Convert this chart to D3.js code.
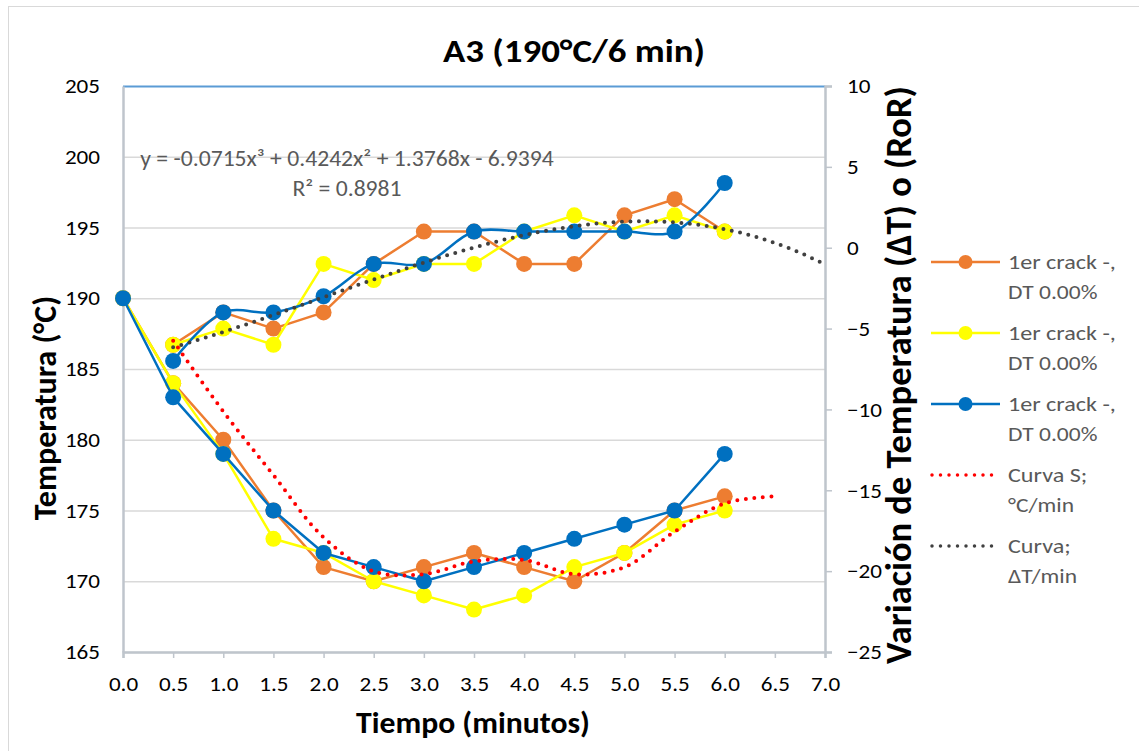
<!DOCTYPE html>
<html>
<head>
<meta charset="utf-8">
<script src="https://cdn.jsdelivr.net/npm/d3@7"></script>
<style>
  html, body { margin: 0; padding: 0; background: #ffffff; }
  svg { display: block; font-family: Calibri, Carlito, Lato, sans-serif; }
</style>
</head>
<body>
<svg id="chart" width="1139" height="751"></svg>
<script>
// Time axis (minutes)
const timeTicks = [0, 0.5, 1, 1.5, 2, 2.5, 3, 3.5, 4, 4.5, 5, 5.5, 6, 6.5, 7];
const tempTicks = [165, 170, 175, 180, 185, 190, 195, 200, 205];
const rorTicks = [-25, -20, -15, -10, -5, 0, 5, 10];

// Temperature readings (°C), every 0.5 min from 0.0 to 6.0
const tempTimes = [0, 0.5, 1, 1.5, 2, 2.5, 3, 3.5, 4, 4.5, 5, 5.5, 6];
const tempOrange = [190, 184, 180, 175, 171, 170, 171, 172, 171, 170, 172, 175, 176];
const tempYellow = [190, 184, 179, 173, 172, 170, 169, 168, 169, 171, 172, 174, 175];
const tempBlue   = [190, 183, 179, 175, 172, 171, 170, 171, 172, 173, 174, 175, 179];

// Temperature change per interval (ΔT), from 0.5 to 6.0 min
const rorTimes = [0.5, 1, 1.5, 2, 2.5, 3, 3.5, 4, 4.5, 5, 5.5, 6];
const rorOrange = [-6, -4, -5, -4, -1, 1, 1, -1, -1, 2, 3, 1];
const rorYellow = [-6, -5, -6, -1, -2, -1, -1, 1, 2, 1, 2, 1];
const rorBlue   = [-7, -4, -4, -3, -1, -1, 1, 1, 1, 1, 1, 4];

// Reference S curve (°C), 0.5 to 6.5 min
const sTimes = [0.5, 1, 1.5, 2, 2.5, 3, 3.5, 4, 4.5, 5, 5.5, 6, 6.5];
const sCurve = [187, 182, 177.5, 173.1, 170.7, 170.5, 171.4, 171.5, 170.5, 171, 173.5, 175.5, 176];

// Cubic trend of ΔT: c0 + c1 x + c2 x² + c3 x³
const trendCoef = [-6.9394, 1.3768, 0.4242, -0.0715];
const trendR2 = 0.8981;
const trendRange = [0.5, 7];

const legendLabels = [
  ["1er crack -,", "DT 0.00%"],
  ["1er crack -,", "DT 0.00%"],
  ["1er crack -,", "DT 0.00%"],
  ["Curva S;", "°C/min"],
  ["Curva;", "ΔT/min"]
];

const C = { orange: "#ED7D31", yellow: "#FFFF00", blue: "#0070C0", red: "#FF0000", dark: "#404040" };
const SX = 1.1; // horizontal widening of the chart text

const svg = d3.select("#chart");
const plot = { left: 123, right: 825, top: 86, bottom: 652 };

const x = d3.scaleLinear().domain([0, 7]).range([plot.left, plot.right]);
const yT = d3.scaleLinear().domain([165, 205]).range([plot.bottom, plot.top]);
const yR = d3.scaleLinear().domain([-25, 10]).range([plot.bottom, plot.top]);

// horizontal text placed at (px, py), widened by sx
function htext(px, py, str, opts = {}) {
  return svg.append("text")
    .attr("transform", `translate(${px},${py}) scale(${opts.sx || SX},1)`)
    .attr("text-anchor", opts.anchor || "start")
    .attr("font-size", opts.size || 20)
    .attr("font-weight", opts.bold ? "bold" : null)
    .attr("fill", opts.fill || "#000")
    .text(str);
}

// outer frame
svg.append("rect").attr("x", 8.5).attr("y", 6.5).attr("width", 1150).attr("height", 800)
  .attr("fill", "#fff").attr("stroke", "#d9d9d9").attr("stroke-width", 1);

// horizontal gridlines from the temperature axis
svg.append("g").selectAll("line").data(tempTicks.filter(d => d !== 205)).join("line")
  .attr("x1", plot.left).attr("x2", plot.right)
  .attr("y1", d => yT(d) + 0.5).attr("y2", d => yT(d) + 0.5)
  .attr("stroke", "#d9d9d9").attr("stroke-width", 1.5);

// top border line
svg.append("line").attr("x1", plot.left).attr("x2", plot.right)
  .attr("y1", plot.top + 0.5).attr("y2", plot.top + 0.5)
  .attr("stroke", "#5B9BD5").attr("stroke-width", 2);

// axes
const axisColor = "#BFC5CC";
const fontTick = 21;

const gx = svg.append("g").attr("transform", `translate(0,${plot.bottom})`)
  .call(d3.axisBottom(x).tickValues(timeTicks).tickFormat(d3.format(".1f")).tickSize(6).tickPadding(18));
const gl = svg.append("g").attr("transform", `translate(${plot.left},0)`)
  .call(d3.axisLeft(yT).tickValues(tempTicks).tickSize(0).tickPadding(23));
const gr = svg.append("g").attr("transform", `translate(${plot.right},0)`)
  .call(d3.axisRight(yR).tickValues(rorTicks).tickSize(7).tickPadding(15));

[gx, gl, gr].forEach(g => {
  g.select(".domain").attr("stroke", axisColor).attr("stroke-width", 2.5);
  g.selectAll(".tick line").attr("stroke", axisColor).attr("stroke-width", 1.5);
  g.selectAll(".tick text").attr("font-size", fontTick).attr("fill", "#000")
    .attr("font-family", "Calibri, Carlito, Lato, sans-serif")
    .attr("x", function () { return (+d3.select(this).attr("x") || 0) / SX; })
    .attr("transform", `scale(${SX},1)`);
});

// line generators
const lineT = d3.line().x(d => x(d[0])).y(d => yT(d[1]));
const lineR = d3.line().x(d => x(d[0])).y(d => yR(d[1]));
const lineRsmooth = d3.line().x(d => x(d[0])).y(d => yR(d[1])).curve(d3.curveCatmullRom.alpha(0.5));
const lineTsmooth = d3.line().x(d => x(d[0])).y(d => yT(d[1])).curve(d3.curveCatmullRom.alpha(0.5));

function series(times, vals, gen, yScale, color) {
  const pts = times.map((t, i) => [t, vals[i]]);
  const g = svg.append("g");
  g.append("path").attr("d", gen(pts)).attr("fill", "none")
    .attr("stroke", color).attr("stroke-width", 2.5).attr("stroke-linejoin", "round");
  g.selectAll("circle").data(pts).join("circle")
    .attr("cx", d => x(d[0])).attr("cy", d => yScale(d[1])).attr("r", 8).attr("fill", color);
}

// temperature series
series(tempTimes, tempOrange, lineT, yT, C.orange);
series(tempTimes, tempYellow, lineT, yT, C.yellow);
series(tempTimes, tempBlue, lineT, yT, C.blue);

// ΔT series
series(rorTimes, rorOrange, lineR, yR, C.orange);
series(rorTimes, rorYellow, lineR, yR, C.yellow);
series(rorTimes, rorBlue, lineRsmooth, yR, C.blue);

// S curve (dotted)
svg.append("path")
  .attr("d", lineTsmooth(sTimes.map((t, i) => [t, sCurve[i]])))
  .attr("fill", "none").attr("stroke", C.red).attr("stroke-width", 4)
  .attr("stroke-linecap", "round").attr("stroke-dasharray", "0 8.5");

// cubic trend of ΔT (dotted)
const trendPts = d3.range(trendRange[0], trendRange[1] + 1e-9, 0.05)
  .map(t => [t, trendCoef.reduce((s, c, k) => s + c * Math.pow(t, k), 0)]);
svg.append("path")
  .attr("d", lineR(trendPts))
  .attr("fill", "none").attr("stroke", C.dark).attr("stroke-width", 4)
  .attr("stroke-linecap", "round").attr("stroke-dasharray", "0 8.5");

// trend equation label
const fmtC = v => Math.abs(v).toFixed(4);
const sgn = v => (v < 0 ? "-" : "+");
const eq = `y = ${trendCoef[3] < 0 ? "-" : ""}${fmtC(trendCoef[3])}x³ ${sgn(trendCoef[2])} ${fmtC(trendCoef[2])}x² ${sgn(trendCoef[1])} ${fmtC(trendCoef[1])}x ${sgn(trendCoef[0])} ${fmtC(trendCoef[0])}`;
htext(347, 166, eq, { anchor: "middle", size: 21.5, fill: "#595959" });
htext(347, 196, `R² = ${trendR2}`, { anchor: "middle", size: 21.5, fill: "#595959" });

// title
svg.append("text").attr("x", 574).attr("y", 62).attr("text-anchor", "middle")
  .attr("font-size", 32).attr("font-weight", "bold").attr("fill", "#000")
  .attr("textLength", 262).attr("lengthAdjust", "spacingAndGlyphs")
  .text("A3 (190°C/6 min)");

// axis titles
svg.append("text").attr("x", 473).attr("y", 733).attr("text-anchor", "middle")
  .attr("font-size", 31).attr("font-weight", "bold").attr("fill", "#000")
  .attr("textLength", 234).attr("lengthAdjust", "spacingAndGlyphs")
  .text("Tiempo (minutos)");
svg.append("text").attr("transform", "translate(56,408) rotate(-90)").attr("text-anchor", "middle")
  .attr("font-size", 32).attr("font-weight", "bold").attr("fill", "#000")
  .text("Temperatura (°C)");
svg.append("text").attr("transform", "translate(911,375) rotate(-90)").attr("text-anchor", "middle")
  .attr("font-size", 36.5).attr("font-weight", "bold").attr("fill", "#000")
  .text("Variación de Temperatura (ΔT) o (RoR)");

// legend
const legendStyles = [
  { color: C.orange, marker: true },
  { color: C.yellow, marker: true },
  { color: C.blue, marker: true },
  { color: C.red, marker: false },
  { color: C.dark, marker: false }
];
legendLabels.forEach((lab, i) => {
  const y0 = 262 + i * 71;
  const st = legendStyles[i];
  if (st.marker) {
    svg.append("line").attr("x1", 931).attr("x2", 1000).attr("y1", y0).attr("y2", y0)
      .attr("stroke", st.color).attr("stroke-width", 2.5);
    svg.append("circle").attr("cx", 965.5).attr("cy", y0).attr("r", 7).attr("fill", st.color);
  } else {
    svg.append("line").attr("x1", 932).attr("x2", 1000).attr("y1", y0).attr("y2", y0)
      .attr("stroke", st.color).attr("stroke-width", 3.5)
      .attr("stroke-linecap", "round").attr("stroke-dasharray", "0 8.5");
  }
  htext(1008, y0 + 7, lab[0], { size: 21, fill: "#595959", sx: 1.15 });
  htext(1008, y0 + 37, lab[1], { size: 21, fill: "#595959", sx: 1.12 });
});
</script>
</body>
</html>
